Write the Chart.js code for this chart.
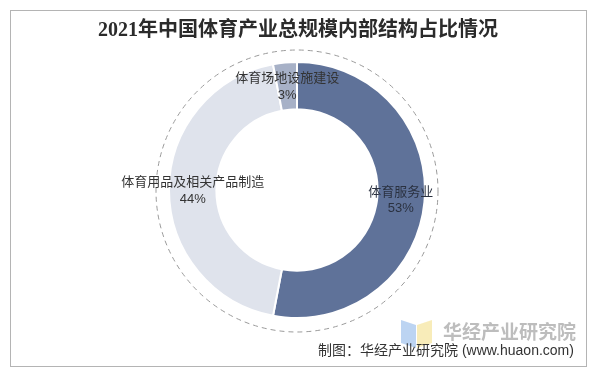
<!DOCTYPE html>
<html lang="zh">
<head>
  <meta charset="UTF-8">
  <title>2021年中国体育产业总规模内部结构占比情况</title>
  <style>
    body { margin: 0; background: #fff; }
    #wrap { width: 600px; height: 375px; }
  </style>
</head>
<body>
  <div id="wrap">
    <canvas id="canvas" width="600" height="375"></canvas>
  </div>
  <script src="https://cdn.jsdelivr.net/npm/chart.js"></script>
  <script type="application/javascript">
    const categories = ['体育服务业', '体育用品及相关产品制造', '体育场地设施建设'];
    const shares = [53, 44, 3];
    const sliceColors = ['#5f7299', '#dfe3ec', '#a7b1c7'];
    const titleText = '2021年中国体育产业总规模内部结构占比情况';
    const sourceText = '制图：华经产业研究院 (www.huaon.com)';

    const cjk = '"Noto Sans CJK SC", "Noto Sans", sans-serif';

    // frame, title, dashed ring, watermark and footer
    const decor = {
      id: 'decor',
      beforeDraw(chart) {
        const ctx = chart.ctx;
        ctx.save();
        ctx.strokeStyle = '#b4b4b4';
        ctx.lineWidth = 1;
        ctx.strokeRect(10.5, 10.5, 576, 356);

        ctx.fillStyle = '#2b2b2b';
        ctx.font = 'bold 20px "Liberation Serif", ' + cjk;
        ctx.textAlign = 'center';
        ctx.textBaseline = 'middle';
        ctx.fillText(titleText, 298, 31);

        const meta = chart.getDatasetMeta(0).data[0];
        ctx.setLineDash([5, 4]);
        ctx.strokeStyle = '#9a9a9a';
        ctx.beginPath();
        ctx.arc(meta.x, meta.y + 1, meta.outerRadius + 13, 0, Math.PI * 2);
        ctx.stroke();
        ctx.restore();
      },
      afterDraw(chart) {
        const ctx = chart.ctx;
        ctx.save();
        // slice labels
        const arcs = chart.getDatasetMeta(0).data;
        ctx.textAlign = 'center';
        ctx.textBaseline = 'middle';
        arcs.forEach((arc, i) => {
          const p = arc.getCenterPoint();
          ctx.fillStyle = i === 0 ? '#2a3140' : '#333';
          ctx.font = '13px ' + cjk;
          ctx.fillText(categories[i], p.x, p.y - 9);
          ctx.font = '13px "Liberation Sans", Arial, sans-serif';
          ctx.fillText(shares[i] + '%', p.x, p.y + 9);
        });

        // watermark logo
        ctx.globalAlpha = 0.6;
        ctx.fillStyle = '#8fb8ea';
        ctx.beginPath();
        ctx.moveTo(401, 320); ctx.lineTo(416, 325); ctx.lineTo(416, 348); ctx.lineTo(401, 343);
        ctx.closePath(); ctx.fill();
        ctx.fillStyle = '#f3e08a';
        ctx.beginPath();
        ctx.moveTo(417, 325); ctx.lineTo(432, 320); ctx.lineTo(432, 343); ctx.lineTo(417, 348);
        ctx.closePath(); ctx.fill();
        ctx.globalAlpha = 1;
        ctx.fillStyle = '#bdbdbd';
        ctx.font = 'bold 19px ' + cjk;
        ctx.textAlign = 'left';
        ctx.fillText('华经产业研究院', 443, 332);

        ctx.fillStyle = '#333';
        ctx.font = '14px "Liberation Sans", ' + cjk;
        ctx.fillText(sourceText, 318, 351);
        ctx.restore();
      }
    };

    const canvas = document.getElementById('canvas');
    new Chart(canvas, {
      type: 'doughnut',
      data: {
        labels: categories,
        datasets: [{
          data: shares,
          backgroundColor: sliceColors,
          borderColor: '#fff',
          borderWidth: 2
        }]
      },
      options: {
        responsive: false,
        animation: false,
        cutout: '63%',
        layout: { padding: { top: 61, bottom: 56, left: 0, right: 6 } },
        plugins: {
          legend: { display: false },
          tooltip: { enabled: false }
        }
      },
      plugins: [decor]
    });
  </script>
</body>
</html>
